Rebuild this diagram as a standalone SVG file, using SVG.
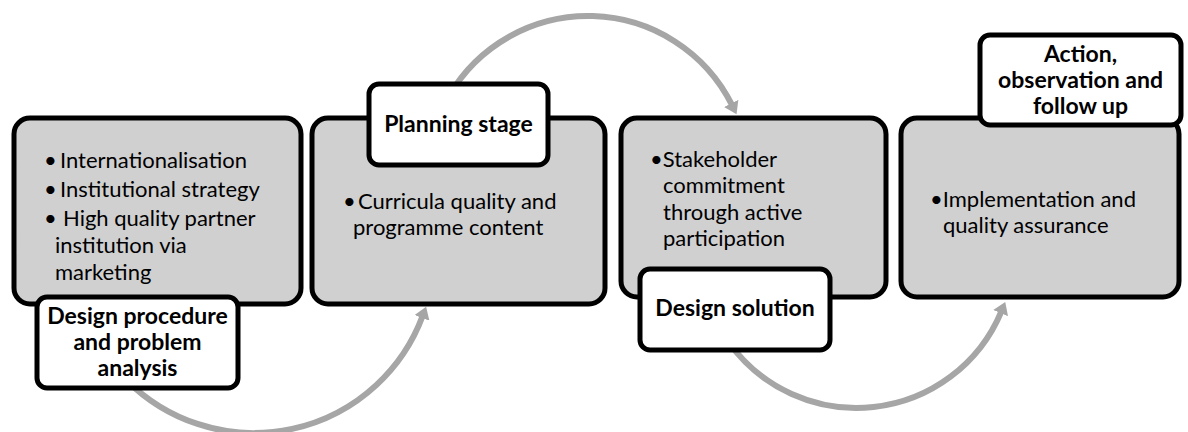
<svg xmlns="http://www.w3.org/2000/svg" width="1188" height="432" viewBox="0 0 1188 432">
<style>
.stage{fill:#d0d0d0;stroke:#000;stroke-width:5}
.label{fill:#fff;stroke:#000;stroke-width:5}
.arc{fill:none;stroke:#a6a6a6;stroke-width:6;marker-end:url(#head)}
text{font-family:Lato,"Liberation Sans",sans-serif;font-size:22px;fill:#000}
.b{font-weight:bold;font-size:23px;text-anchor:middle}
</style>
<defs>
<marker id="head" markerUnits="userSpaceOnUse" markerWidth="14" markerHeight="16" viewBox="0 0 14 16" refX="2" refY="8" orient="auto">
<path d="M0,0 L12,8 L0,16 z" fill="#a6a6a6"/>
</marker>
</defs>
<g id="connectors">
<path class="arc" d="M126.7,380.3 A180,180 0 0 0 422.6,316"/>
<path class="arc" d="M448.6,96.5 A161,161 0 0 1 732.1,105.2"/>
<path class="arc" d="M727.9,341.1 A157,157 0 0 0 1001.4,311.3"/>
</g>
<g id="stage1">
<rect class="stage" x="14" y="118" width="287" height="186" rx="16"/>
<text x="44" y="168">•<tspan x="60">Internationalisation</tspan></text>
<text x="44" y="197">•<tspan x="60">Institutional strategy</tspan></text>
<text x="44" y="226">•<tspan x="63">High quality partner</tspan></text>
<text x="55" y="253">institution via</text>
<text x="55" y="280">marketing</text>
</g>
<g id="stage2">
<rect class="stage" x="312" y="118" width="293" height="186" rx="16"/>
<text x="343" y="209">•<tspan x="358">Curricula quality and</tspan></text>
<text x="353" y="235">programme content</text>
</g>
<g id="stage3">
<rect class="stage" x="621" y="118" width="265" height="179" rx="16"/>
<text x="650" y="167">•Stakeholder</text>
<text x="663" y="193">commitment</text>
<text x="663" y="220">through active</text>
<text x="663" y="246">participation</text>
</g>
<g id="stage4">
<rect class="stage" x="901" y="118" width="278" height="179" rx="16"/>
<text x="930" y="207">•Implementation and</text>
<text x="943" y="233">quality assurance</text>
</g>
<g id="label1">
<rect class="label" x="37" y="297" width="201" height="91" rx="10"/>
<text class="b" x="137.5" y="324">Design procedure</text>
<text class="b" x="137.5" y="350">and problem</text>
<text class="b" x="137.5" y="376">analysis</text>
</g>
<g id="label2">
<rect class="label" x="369" y="84" width="179" height="81" rx="10"/>
<text class="b" x="458.5" y="132">Planning stage</text>
</g>
<g id="label3">
<rect class="label" x="640" y="269" width="190" height="81" rx="10"/>
<text class="b" x="735" y="316">Design solution</text>
</g>
<g id="label4">
<rect class="label" x="980" y="35" width="201" height="90" rx="10"/>
<text class="b" x="1080.5" y="62">Action,</text>
<text class="b" x="1080.5" y="88">observation and</text>
<text class="b" x="1080.5" y="114">follow up</text>
</g>
</svg>
